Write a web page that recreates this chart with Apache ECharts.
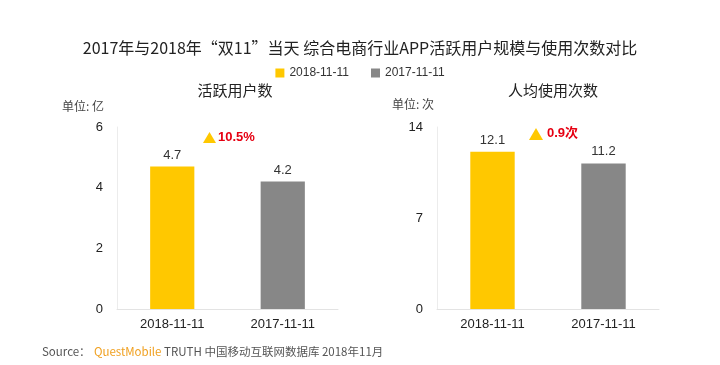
<!DOCTYPE html>
<html><head><meta charset="utf-8">
<script src="https://cdn.jsdelivr.net/npm/echarts@6/dist/echarts.min.js"></script>
<style>html,body{margin:0;padding:0;background:#fff}#c{width:720px;height:365px}</style>
</head><body><div id="c"></div>
<script>
const categories = ['2018-11-11', '2017-11-11'];
const activeUsers = [4.7, 4.2];
const usageTimes = [12.1, 11.2];
const seriesNames = ['2018-11-11', '2017-11-11'];
const colors = ['#FFC800', '#878787'];
const leftTicks = {min: 0, max: 6, interval: 2};
const rightTicks = {min: 0, max: 14, interval: 7};

const font = '"Microsoft YaHei","Noto Sans CJK SC",sans-serif';
const chart = echarts.init(document.getElementById('c'));

function mkData(vals) {
  return vals.map((v, i) => ({value: v, itemStyle: {color: colors[i]}}));
}
function xAxis(gi) {
  return {type: 'category', gridIndex: gi, data: categories,
    axisLine: {lineStyle: {color: '#e3e3e3'}}, axisTick: {show: false},
    axisLabel: {color: '#222', fontSize: 13, margin: 9, fontFamily: 'Arial, "Liberation Sans", sans-serif'}};
}
function yAxis(gi, t) {
  return {type: 'value', gridIndex: gi, min: t.min, max: t.max, interval: t.interval,
    axisLine: {show: true, lineStyle: {color: '#ececec'}}, axisTick: {show: false},
    splitLine: {show: false},
    axisLabel: {color: '#222', fontSize: 13, margin: 14, fontFamily: 'Arial, "Liberation Sans", sans-serif'}};
}
const labelCfg = {show: true, position: 'top', distance: 5, color: '#333', fontSize: 13, fontFamily: 'Arial, "Liberation Sans", sans-serif'};

chart.setOption({
  animation: false,
  title: [
    {text: '2017年与2018年“双11”当天 综合电商行业APP活跃用户规模与使用次数对比', left: 'center', top: 35,
      textStyle: {fontSize: 16, fontWeight: 'normal', color: '#222', fontFamily: font}},
    {text: '活跃用户数', left: 230, textAlign: 'center', top: 78,
      textStyle: {fontSize: 15, fontWeight: 'normal', color: '#222', fontFamily: font}},
    {text: '人均使用次数', left: 548, textAlign: 'center', top: 78,
      textStyle: {fontSize: 15, fontWeight: 'normal', color: '#222', fontFamily: font}}
  ],
  legend: {top: 62, left: 'center', itemWidth: 9, itemHeight: 9, itemGap: 22, icon: 'rect',
    data: [{name: seriesNames[0], itemStyle: {color: colors[0]}}, {name: seriesNames[1], itemStyle: {color: colors[1]}}],
    textStyle: {fontSize: 12, color: '#333', fontFamily: 'Arial, "Liberation Sans", sans-serif'}},
  grid: [
    {left: 117, right: 382, top: 127, bottom: 56},
    {left: 437, right: 61, top: 127, bottom: 56}
  ],
  xAxis: [xAxis(0), xAxis(1)],
  yAxis: [yAxis(0, leftTicks), yAxis(1, rightTicks)],
  series: [
    {type: 'bar', name: seriesNames[0], xAxisIndex: 0, yAxisIndex: 0, barWidth: '40%', data: mkData(activeUsers), label: labelCfg},
    {type: 'bar', name: seriesNames[1], xAxisIndex: 1, yAxisIndex: 1, barWidth: '40%', data: mkData(usageTimes), label: labelCfg}
  ],
  graphic: [
    {type: 'text', left: 62, top: 100, style: {text: '单位: 亿', fill: '#444', font: '12px ' + font}},
    {type: 'text', left: 392, top: 98, style: {text: '单位: 次', fill: '#444', font: '12px ' + font}},
    {type: 'polygon', shape: {points: [[209.5, 132], [203, 143], [216, 143]]}, style: {fill: '#FFC800'}},
    {type: 'text', left: 218, top: 131, style: {text: '10.5%', fill: '#E60012', font: 'bold 13px Arial, "Liberation Sans", sans-serif'}},
    {type: 'polygon', shape: {points: [[536, 128], [529, 140], [543, 140]]}, style: {fill: '#FFC800'}},
    {type: 'text', left: 547, top: 127, style: {text: '0.9次', fill: '#E60012', font: 'bold 13px Arial, "Noto Sans CJK SC", sans-serif'}},
    {type: 'text', left: 42, top: 346, style: {
      text: '{a|Source：} {b|QuestMobile}{a| TRUTH 中国移动互联网数据库 2018年11月}',
      rich: {a: {fill: '#555', fontSize: 11.5, fontFamily: font}, b: {fill: '#F0A020', fontSize: 11.5, fontFamily: font}}
    }}
  ]
});
</script></body></html>
